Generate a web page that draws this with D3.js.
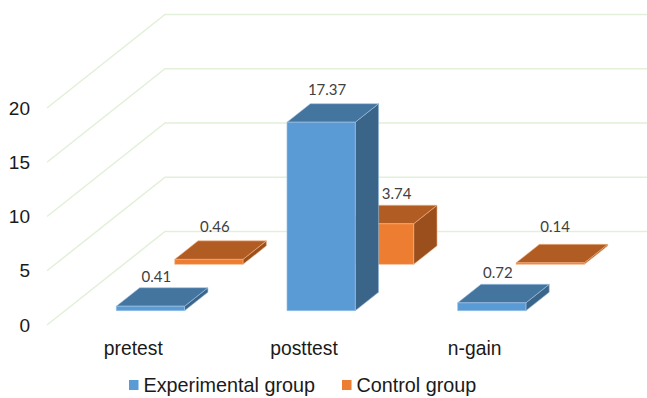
<!DOCTYPE html>
<html>
<head>
<meta charset="utf-8">
<script src="https://cdn.jsdelivr.net/npm/d3@7"></script>
<style>
    html, body { margin: 0; padding: 0; background: #fff; overflow: hidden; }
    svg { display: block; }
    .tick text { font-family: "Liberation Sans", Arial, sans-serif; fill: #1a1a1a; }
    .valor { font-family: Lato, sans-serif; font-size: 15px; fill: #404040; text-anchor: middle; }
    .leyenda { font-family: "Liberation Sans", Arial, sans-serif; font-size: 19.8px; fill: #1a1a1a; }
</style>
</head>
<body>
<div id="container"></div>
<script>
const categories = ["pretest", "posttest", "n-gain"];
const seriesNames = ["Experimental group", "Control group"];
const experimental = [0.41, 17.37, 0.72];
const control = [0.46, 3.74, 0.14];
const yTicks = [0, 5, 10, 15, 20];

const WIDTH = 647,
      HEIGHT = 398;

// suelo del grafico: esquina frontal izquierda y desplazamiento de la pared del fondo
const FRONT_X = 47,
      FRONT_Y = 325,
      FRONT_RIGHT = 559,
      DEPTH_X = 118,
      DEPTH_Y = 93.5;

const colors = [
    { front: "#5b9bd5", top: "#44759f", side: "#3a6488", edge: "#9dc3e6" },
    { front: "#ed7d31", top: "#b15c22", side: "#9a4f1d", edge: "#f4b183" },
];

const svg = d3.select("#container")
    .append("svg")
    .attr("width", WIDTH)
    .attr("height", HEIGHT);

const xScale = d3.scaleBand()
    .domain(categories)
    .range([FRONT_X, FRONT_RIGHT])
    .paddingInner(0.6)
    .paddingOuter(0.3);

const yScale = d3.scaleLinear()
    .domain([0, 20])
    .range([FRONT_Y, FRONT_Y - 217]);

// profundidad 0 = frente, 1 = fondo
const zScale = d3.scaleBand()
    .domain(seriesNames)
    .range([0, 1])
    .paddingInner(0.6)
    .paddingOuter(0.31);

const project = (x, value, z) => [x + z * DEPTH_X, yScale(value) - z * DEPTH_Y];
const line = d3.line();

// rejilla: pared lateral + pared del fondo
svg.append("g")
    .selectAll("path")
    .data(yTicks)
    .join("path")
    .attr("d", (d) => line([
        project(FRONT_X, d, 0),
        project(FRONT_X, d, 1),
        project(FRONT_RIGHT, d, 1),
    ]))
    .attr("fill", "none")
    .attr("stroke", "#e2f0d9")
    .attr("stroke-width", 1.5);

const yAxis = d3.axisLeft(yScale).tickValues(yTicks).tickSize(0).tickPadding(0);
svg.append("g")
    .attr("transform", "translate(30, 0)")
    .call(yAxis)
    .call((g) => g.select(".domain").remove())
    .selectAll("text")
    .style("font-size", "19px");

const xAxis = d3.axisBottom(xScale).tickSize(0).tickPadding(0);
svg.append("g")
    .attr("transform", "translate(1, 341)")
    .call(xAxis)
    .call((g) => g.select(".domain").remove())
    .selectAll("text")
    .style("font-size", "19.3px");

// primero la serie del fondo para que la del frente la tape
const rows = [];
[control, experimental].forEach((values) => {
    const serie = values === experimental ? 0 : 1;
    values.forEach((value, i) => {
        rows.push({ serie, value, category: categories[i] });
    });
});

// ajustes manuales de etiquetas que en el original estan movidas
const labelNudge = {
    "0-0": [0, 2.5],
    "0-2": [0, 2],
    "1-1": [11, 2],
    "1-2": [-1, -4],
};
const nudgeOf = (d) => labelNudge[`${d.serie}-${categories.indexOf(d.category)}`] || [0, 0];

const bars = svg.selectAll(".bar")
    .data(rows)
    .join("g")
    .attr("class", "bar");

const corners = (d) => {
    const x0 = xScale(d.category),
          x1 = x0 + xScale.bandwidth(),
          z0 = zScale(seriesNames[d.serie]),
          z1 = z0 + zScale.bandwidth();
    return { x0, x1, z0, z1 };
};

const face = (sel, part, pointsOf) => sel.append("path")
    .attr("d", (d) => line(pointsOf(d, corners(d))) + "Z")
    .attr("fill", (d) => colors[d.serie][part])
    .attr("stroke", (d) => colors[d.serie].edge)
    .attr("stroke-width", 0.6)
    .attr("stroke-linejoin", "round");

face(bars, "side", (d, c) => [
    project(c.x1, 0, c.z0), project(c.x1, 0, c.z1),
    project(c.x1, d.value, c.z1), project(c.x1, d.value, c.z0),
]);
face(bars, "top", (d, c) => [
    project(c.x0, d.value, c.z0), project(c.x1, d.value, c.z0),
    project(c.x1, d.value, c.z1), project(c.x0, d.value, c.z1),
]);
face(bars, "front", (d, c) => [
    project(c.x0, 0, c.z0), project(c.x1, 0, c.z0),
    project(c.x1, d.value, c.z0), project(c.x0, d.value, c.z0),
]);

bars.append("text")
    .attr("class", "valor")
    .attr("x", (d) => {
        const c = corners(d);
        return project((c.x0 + c.x1) / 2, d.value, c.z0)[0] + 6 + nudgeOf(d)[0];
    })
    .attr("y", (d) => {
        const c = corners(d);
        return project(c.x0, d.value, c.z1)[1] - 8.5 + nudgeOf(d)[1];
    })
    .text((d) => d.value.toFixed(2));

// leyenda
const legendX = d3.scaleOrdinal().domain(seriesNames).range([129, 342]);
const legend = svg.selectAll(".itemLeyenda")
    .data(seriesNames)
    .join("g")
    .attr("class", "itemLeyenda")
    .attr("transform", (d) => `translate(${legendX(d)}, 380)`);

legend.append("rect")
    .attr("width", 9.5)
    .attr("height", 10)
    .attr("fill", (d, i) => colors[i].front);

legend.append("text")
    .attr("class", "leyenda")
    .attr("x", 14.5)
    .attr("y", 12)
    .text((d) => d);
</script>
</body>
</html>
